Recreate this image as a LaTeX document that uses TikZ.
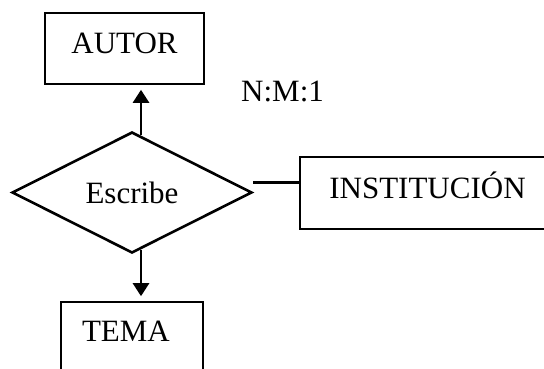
\documentclass[tikz,border=0pt]{standalone}
\usepackage{fontspec}
\setmainfont{Liberation Serif}
\usetikzlibrary{shapes.geometric,arrows.meta}
\begin{document}
\begin{tikzpicture}[x=1pt,y=-1pt,
  every node/.style={font=\fontsize{31}{37}\selectfont},
  entity/.style={draw,line width=2.6pt,rectangle,inner ysep=0pt,inner xsep=0pt},
  relation/.style={draw,line width=2.6pt,diamond,inner sep=0pt,
    minimum width=240pt,minimum height=121pt},
  link/.style={line width=2.6pt},
  arr/.style={line width=2.6pt,-{Triangle[length=13pt,width=16pt]}}]
  \useasboundingbox (0,0) rectangle (544,368);
  \clip (0,0) rectangle (544,368);

  % entities and relationship
  \node[entity,minimum width=159pt,text height=40pt,text depth=31pt]
    (autor) at (124.5,48.5) {AUTOR};
  \node[relation] (escribe) at (132,192.5) {Escribe};
  \node[entity,minimum width=255pt,text height=41pt,text depth=31pt]
    (inst) at (427.5,193) {INSTITUCIÓN};
  \node[entity,text width=100pt,align=left,inner xsep=21pt,
    text height=39pt,text depth=39pt] (tema) at (132,341) {TEMA};

  % cardinality
  \node[anchor=base west,inner sep=0pt] (card) at (241,101) {N:M:1};

  % connectors
  \draw[arr] ([xshift=9pt,yshift=-4.5pt]escribe.north)
    -- ([xshift=9pt,yshift=-4.5pt]escribe.north |- autor.south);
  \draw[arr] ([xshift=9pt,yshift=4.5pt]escribe.south)
    -- ([xshift=9pt,yshift=4.5pt]escribe.south |- tema.north);
  \draw[link] ([yshift=10pt]escribe.east)
    -- ([yshift=10pt]escribe.east -| inst.west);
\end{tikzpicture}
\end{document}
